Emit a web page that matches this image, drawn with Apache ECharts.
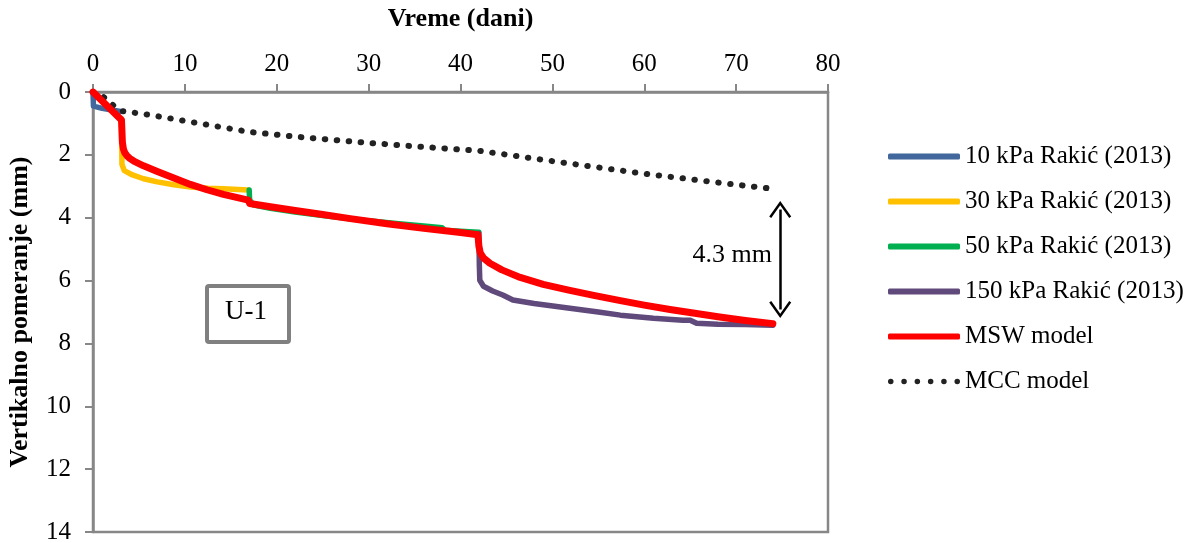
<!DOCTYPE html>
<html><head><meta charset="utf-8">
<script src="https://cdn.jsdelivr.net/npm/echarts@6/dist/echarts.min.js"></script>
<style>html,body{margin:0;padding:0;background:#fff;}#c{width:1196px;height:543px;}</style>
</head><body><div id="c"></div>
<script>
// ---- data ----
var xTicks = [0, 10, 20, 30, 40, 50, 60, 70, 80];
var yTicks = [0, 2, 4, 6, 8, 10, 12, 14];
var seriesNames = ['10 kPa Raki\u0107 (2013)', '30 kPa Raki\u0107 (2013)', '50 kPa Raki\u0107 (2013)', '150 kPa Raki\u0107 (2013)', 'MSW model', 'MCC model'];
var kpa10 = [[0,0],[0.05,0.45],[1,0.52],[3,0.62]];
var kpa30 = [[3.1,0.85],[3.12,1.5],[3.15,2.3],[3.4,2.5],[4.3,2.64],[5.5,2.76],[7,2.86],[8.8,2.95],[10.6,3.02],[12.5,3.06],[14.2,3.08],[16.9,3.12]];
var kpa50 = [[17,3.12],[17.05,3.44],[17.5,3.6],[19.3,3.7],[22,3.82],[25,3.93],[28,4.03],[30,4.1],[33,4.18],[36,4.26],[38,4.32],[38.3,4.4],[40,4.43],[42,4.46]];
var kpa150 = [[42,4.5],[42.05,5.5],[42.1,5.99],[42.5,6.18],[43.5,6.33],[44.6,6.46],[45.7,6.62],[48,6.73],[51.9,6.88],[55,7.0],[57.4,7.1],[61,7.2],[64.2,7.26],[65,7.26],[65.7,7.36],[68,7.39],[71,7.4],[74,7.42]];
var msw = [[0,0],[3.1,0.89],[3.2,1.6],[3.3,1.8],[3.45,1.93],[3.7,2.03],[4.0,2.11],[4.5,2.21],[5.5,2.35],[7,2.53],[8.8,2.74],[10.6,2.94],[12.4,3.11],[14.2,3.26],[16.9,3.44],[17.05,3.55],[19.3,3.65],[22,3.77],[25,3.9],[28,4.03],[32,4.19],[36,4.34],[40,4.47],[41.9,4.54],[42,4.9],[42.15,5.12],[42.5,5.28],[43.2,5.45],[44.5,5.66],[46.5,5.9],[49,6.12],[51.9,6.31],[54.5,6.47],[57.4,6.64],[60,6.78],[62.8,6.92],[65.5,7.04],[68.2,7.16],[71,7.27],[74,7.37]];
var mcc = [[0,0],[1,0.12],[2,0.38],[3,0.6],[6,0.72],[10,0.92],[14,1.12],[17,1.27],[22,1.42],[30,1.62],[36,1.75],[42,1.87],[50,2.2],[60,2.6],[70,2.95],[74,3.08]];
var arrowSpan = [[74.8, 3.74], [74.8, 6.92]];
var annotationText = '4.3 mm';
var boxText = 'U-1';

var FONT = '"Liberation Serif", "Times New Roman", serif';
var GRAY = '#878787';
var colors = ['#41679C', '#FFC000', '#00B050', '#604A7B', '#FF0000', '#222222'];
var datasets = [kpa10, kpa30, kpa50, kpa150, msw, mcc];
var CHEVRON = 'path://M0,15 L11,0 L22,15 L20,16.5 L11,4 L2,16.5 Z';
var DOTS = 'path://M0,2.5a2.5,2.5 0 1,0 5,0a2.5,2.5 0 1,0 -5,0Z M12,2.5a2.5,2.5 0 1,0 5,0a2.5,2.5 0 1,0 -5,0Z M24,2.5a2.5,2.5 0 1,0 5,0a2.5,2.5 0 1,0 -5,0Z M36,2.5a2.5,2.5 0 1,0 5,0a2.5,2.5 0 1,0 -5,0Z M48,2.5a2.5,2.5 0 1,0 5,0a2.5,2.5 0 1,0 -5,0Z M60,2.5a2.5,2.5 0 1,0 5,0a2.5,2.5 0 1,0 -5,0Z';

var series = datasets.map(function (d, i) {
  var s = {
    name: seriesNames[i], type: 'line', data: d, showSymbol: false, symbol: 'none',
    lineStyle: { color: colors[i], width: i === 4 ? 7 : 5.5, cap: 'round', join: 'round' },
    itemStyle: { color: colors[i] },
    animation: false, z: i === 4 ? 5 : 3
  };
  if (i === 5) {
    s.lineStyle = { color: colors[i], width: 6, type: [0.5, 11.5], cap: 'round' };
    s.markLine = {
      silent: true, animation: false,
      symbol: [CHEVRON, CHEVRON],
      symbolSize: [22, 17],
      lineStyle: { color: '#000', width: 2.5, type: 'solid' },
      label: { show: false },
      data: [[{ coord: arrowSpan[0] }, { coord: arrowSpan[1] }]]
    };
  }
  return s;
});

var legendData = seriesNames.map(function (n, i) {
  return { name: n, icon: i === 5 ? DOTS : 'roundRect', itemStyle: { color: colors[i] } };
});

var chart = echarts.init(document.getElementById('c'), null, { renderer: 'canvas' });
chart.setOption({
  animation: false,
  backgroundColor: '#fff',
  textStyle: { fontFamily: FONT },
  grid: { left: 93, top: 92, width: 735, height: 440, show: true, borderColor: GRAY, borderWidth: 2.5, backgroundColor: 'transparent', containLabel: false, outerBoundsMode: 'none' },
  legend: {
    orient: 'vertical', left: 883, top: 139, itemWidth: 72, itemHeight: 6, itemGap: 20,
    symbolKeepAspect: true,
    data: legendData,
    textStyle: { fontFamily: FONT, fontSize: 25, color: '#000', lineHeight: 25 }
  },
  xAxis: {
    type: 'value', position: 'top', min: xTicks[0], max: xTicks[xTicks.length - 1], interval: 10,
    name: 'Vreme (dani)', nameLocation: 'middle', nameGap: 60,
    nameTextStyle: { fontFamily: FONT, fontSize: 26, fontWeight: 'bold', color: '#000' },
    axisLine: { show: true, lineStyle: { color: GRAY, width: 2.5 } },
    axisTick: { show: true, inside: false, length: 8, lineStyle: { color: GRAY, width: 2 } },
    axisLabel: { fontFamily: FONT, fontSize: 25, color: '#000', margin: 15 },
    splitLine: { show: false }
  },
  yAxis: {
    type: 'value', inverse: true, min: yTicks[0], max: yTicks[yTicks.length - 1], interval: 2,
    name: 'Vertikalno pomeranje (mm)', nameLocation: 'middle', nameGap: 60,
    nameTextStyle: { fontFamily: FONT, fontSize: 26, fontWeight: 'bold', color: '#000' },
    axisLine: { show: true, lineStyle: { color: GRAY, width: 2.5 } },
    axisTick: { show: true, inside: false, length: 8, lineStyle: { color: GRAY, width: 2 } },
    axisLabel: { fontFamily: FONT, fontSize: 25, color: '#000', margin: 22 },
    splitLine: { show: false }
  },
  graphic: [
    { type: 'rect', left: 205, top: 284, shape: { width: 82, height: 56, r: 2 }, style: { fill: '#fff', stroke: '#808080', lineWidth: 4 }, z: 10 },
    { type: 'text', x: 246, y: 312, style: { text: boxText, font: '27px ' + FONT, fill: '#000', textAlign: 'center', textVerticalAlign: 'middle' }, z: 11 },
    { type: 'text', x: 772, y: 255, style: { text: annotationText, font: '26px ' + FONT, fill: '#000', textAlign: 'right', textVerticalAlign: 'middle' }, z: 11 }
  ],
  series: series
});
</script></body></html>
